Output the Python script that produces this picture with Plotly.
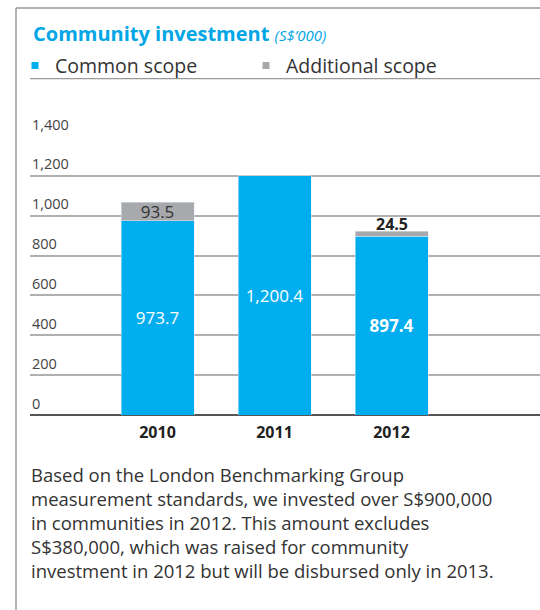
import plotly.graph_objects as go

# Community investment, S$'000
years = ["2010", "2011", "2012"]
common_scope = [973.7, 1200.4, 897.4]
additional_scope = [93.5, None, 24.5]
y_ticks = [0, 200, 400, 600, 800, 1000, 1200, 1400]

notes = [
    "Based on the London Benchmarking Group",
    "measurement standards, we invested over S$900,000",
    "in communities in 2012. This amount excludes",
    "S$380,000, which was raised for community",
    "investment in 2012 but will be disbursed only in 2013.",
]

BLUE = "#00AEEF"
GREY = "#A7A9AC"
FONT = "Open Sans"
W, H = 540, 610
ML, MR, MT, MB = 30, 0, 135.5, 194.5
PW, PH = W - ML - MR, H - MT - MB


def fmt(v):
    return f"{v:,.1f}"


def py(px):
    # pixel row -> paper y
    return (H - MB - px) / PH


def px_x(px):
    # pixel column -> paper x
    return (px - ML) / PW


common_text = [fmt(v) for v in common_scope]
common_text[2] = f"<b>{common_text[2]}</b>"
extra_text = ["" if v is None else fmt(v) for v in additional_scope]

fig = go.Figure()
fig.add_bar(
    x=years, y=common_scope, marker_color=BLUE, width=0.624,
    text=common_text, textposition="inside", insidetextanchor="middle",
    textfont=dict(color="white", size=17, family=FONT),
    showlegend=False, hoverinfo="skip",
)
fig.add_bar(
    x=years, y=additional_scope, marker_color=GREY, width=0.624,
    text=extra_text, textposition=["inside", "none", "none"],
    insidetextanchor="middle", constraintext="none",
    textfont=dict(color="#333333", size=17, family=FONT),
    showlegend=False, hoverinfo="skip",
)
# legend keys
for name, col in [("Common scope", BLUE), ("Additional scope", GREY)]:
    fig.add_scatter(x=[None], y=[None], mode="markers", name=name,
                    marker=dict(symbol="square", size=7, color=col))

annotations = [
    dict(x=px_x(31), y=py(33), xref="paper", yref="paper", xanchor="left",
         yanchor="middle", showarrow=False,
         text="<b>Community investment</b> <i><span style='font-size:15px'>(S$\u2019000)</span></i>",
         font=dict(family=FONT, size=20, color="#00A6E6")),
    # value of the small 2012 additional segment, above the stack
    dict(x=2, y=common_scope[2] + additional_scope[2], xref="x", yref="y",
         yanchor="bottom", yshift=-6, showarrow=False,
         text=f"<b>{fmt(additional_scope[2])}</b>",
         font=dict(family=FONT, size=16, color="#222222")),
    # explanatory note below the chart
    dict(x=px_x(29), y=py(461), xref="paper", yref="paper", xanchor="left",
         yanchor="top", align="left", showarrow=False,
         text="<br>".join(notes), font=dict(family=FONT, size=18.5, color="#333333")),
]
for t in y_ticks:
    annotations.append(dict(x=px_x(30), y=t, xref="paper", yref="y", xanchor="left",
                            yanchor="middle", yshift=12, showarrow=False,
                            text=f"{t:,}",
                            font=dict(family=FONT, size=14.5, color="#444444")))

shapes = [
    # frame
    dict(type="line", xref="paper", yref="paper", x0=px_x(16), x1=px_x(545), y0=py(7), y1=py(7),
         line=dict(color="#9a9a9a", width=1.5)),
    dict(type="line", xref="paper", yref="paper", x0=px_x(16), x1=px_x(16), y0=py(7), y1=py(615),
         line=dict(color="#9a9a9a", width=1.5)),
    # rule below legend
    dict(type="line", xref="paper", yref="paper", x0=px_x(30), x1=px_x(545), y0=py(78), y1=py(78),
         line=dict(color="#9a9a9a", width=1.2)),
]

fig.update_layout(
    width=W, height=H, barmode="stack",
    margin=dict(l=ML, r=MR, t=MT, b=MB),
    plot_bgcolor="white", paper_bgcolor="white",
    font=dict(family=FONT, color="#333333"),
    uniformtext=dict(minsize=16, mode="show"),
    legend=dict(orientation="h", traceorder="normal", x=px_x(15), y=py(65), yanchor="middle",
                xanchor="left", font=dict(family=FONT, size=19.5, color="#333333"),
                entrywidth=186, itemwidth=30, bgcolor="rgba(0,0,0,0)"),
    annotations=annotations, shapes=shapes,
    xaxis=dict(type="category", range=[-127.5 / 117, 382.5 / 117], showgrid=False, ticks="",
               tickfont=dict(family=FONT, size=16, color="#222222", weight="bold"),
               ticklabelstandoff=6, showline=False, zeroline=False),
    yaxis=dict(range=[0, 1400], tickvals=y_ticks, showticklabels=False, showgrid=True,
               gridcolor="#B0B0B0", gridwidth=1.5, zeroline=True, zerolinecolor="#555555",
               zerolinewidth=2),
)

fig.write_html("out.html")
